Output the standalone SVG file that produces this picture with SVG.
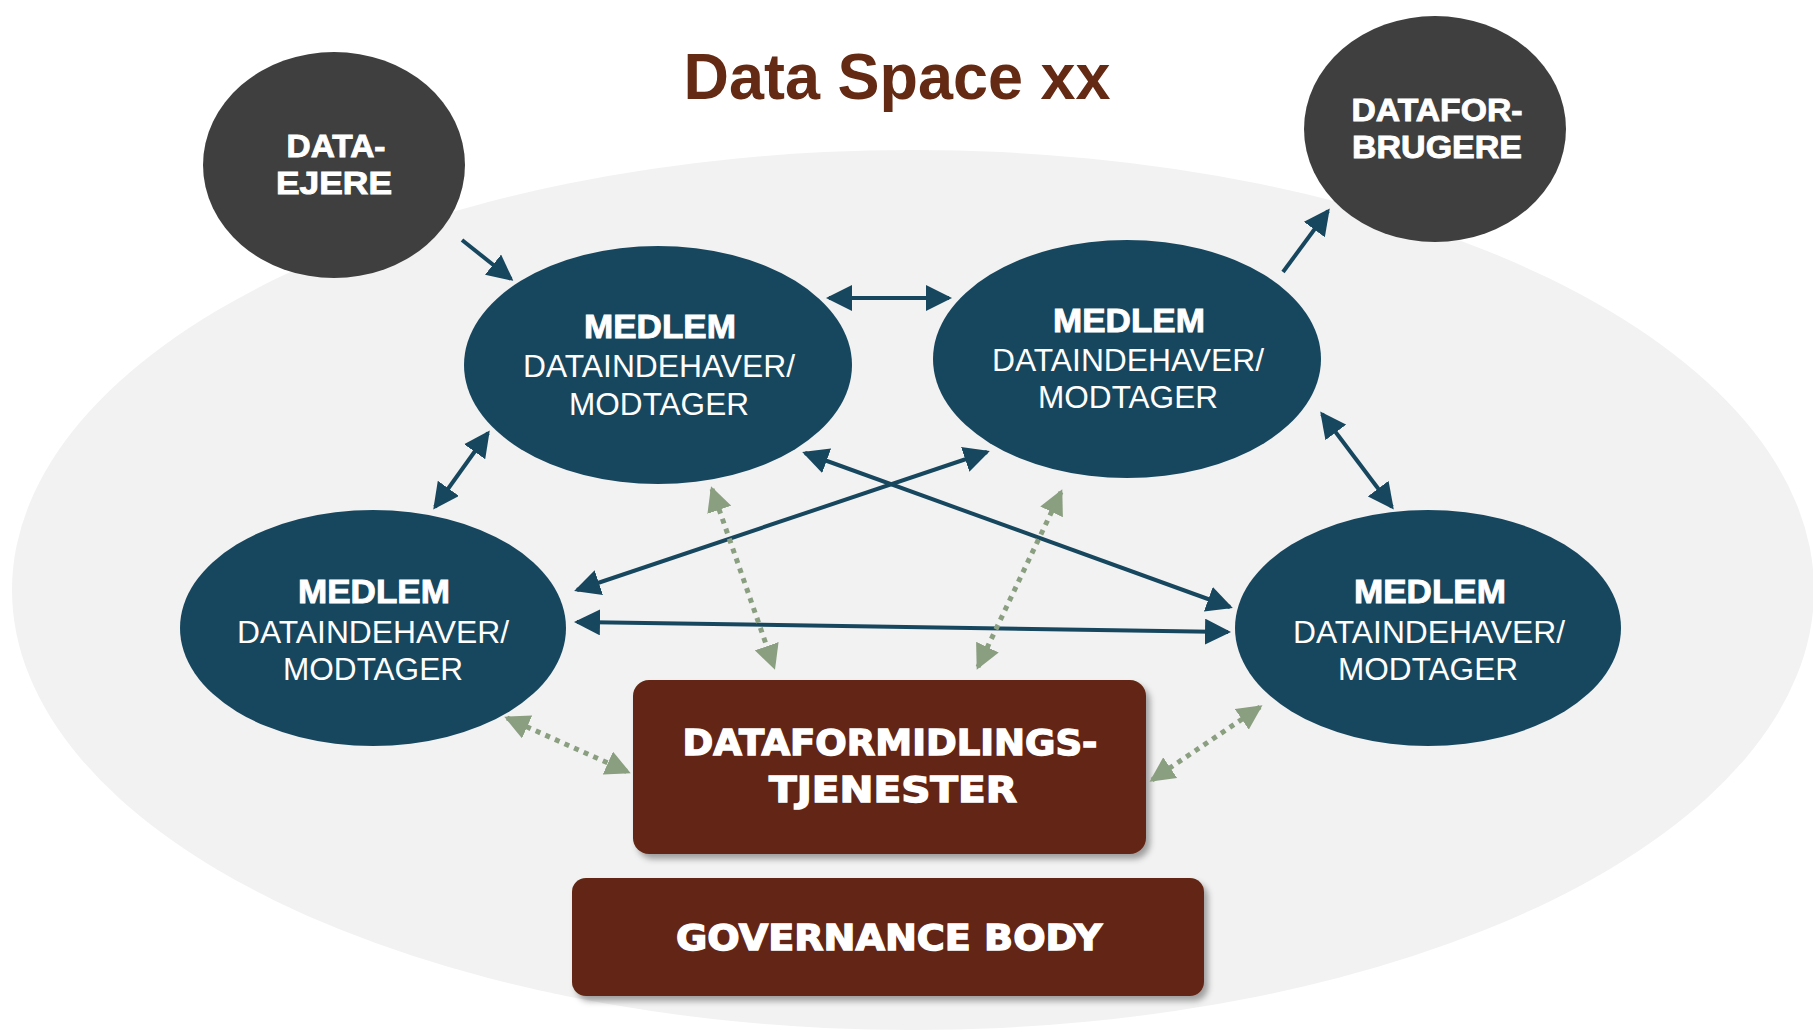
<svg xmlns="http://www.w3.org/2000/svg" width="1813" height="1034" viewBox="0 0 1813 1034">
  <style>
    .bg { fill: #f2f2f2; }
    .dark { fill: #3f3f3f; }
    .member { fill: #17475e; }
    .box { fill: #632813; }
    .title { font-family: "Liberation Sans", Arial, sans-serif; font-weight: bold; font-size: 64px; fill: #642a14; text-anchor: middle; }
    .lbl { font-family: "Liberation Sans", Arial, sans-serif; font-weight: bold; font-size: 32px; fill: #ffffff; text-anchor: middle; stroke: #ffffff; stroke-width: 0.9; }
    .mb { font-family: "Liberation Sans", Arial, sans-serif; font-weight: bold; font-size: 33px; fill: #ffffff; text-anchor: middle; stroke: #ffffff; stroke-width: 0.9; }
    .mr { font-family: "Liberation Sans", Arial, sans-serif; font-size: 31px; fill: #ffffff; text-anchor: middle; }
    .bx { font-family: "DejaVu Sans", "Liberation Sans", sans-serif; font-weight: bold; font-size: 36px; fill: #ffffff; text-anchor: middle; stroke: #ffffff; stroke-width: 1.4; }
    .cd { fill: none; stroke: #17475e; stroke-width: 4; marker-end: url(#hd); }
    .cd2 { marker-start: url(#hd); }
    .cg { fill: none; stroke: #8a9e80; stroke-width: 5; stroke-dasharray: 5 5.5; marker-start: url(#hg); marker-end: url(#hg); }
  </style>
  <defs>
    <marker id="hd" markerUnits="userSpaceOnUse" viewBox="0 0 26 26" markerWidth="26" markerHeight="26" refX="23" refY="13" orient="auto-start-reverse">
      <path d="M0,0 L26,13 L0,26 Z" fill="#17475e"/>
    </marker>
    <marker id="hg" markerUnits="userSpaceOnUse" viewBox="0 0 25 25" markerWidth="25" markerHeight="25" refX="22" refY="12.5" orient="auto-start-reverse">
      <path d="M0,0 L25,12.5 L0,25 Z" fill="#8a9e80"/>
    </marker>
    <filter id="sh" x="-10%" y="-10%" width="125%" height="130%">
      <feDropShadow dx="4" dy="5" stdDeviation="3" flood-color="#000000" flood-opacity="0.35"/>
    </filter>
  </defs>

  <g id="background">
    <ellipse class="bg" cx="913" cy="590" rx="901" ry="440"/>
  </g>

  <g id="title">
    <text class="title" x="897" y="99" textLength="427" lengthAdjust="spacingAndGlyphs">Data Space xx</text>
  </g>

  <g id="dataejere">
    <ellipse class="dark" cx="334" cy="165" rx="131" ry="113"/>
    <text class="lbl" x="336" y="157" textLength="99" lengthAdjust="spacingAndGlyphs">DATA-</text>
    <text class="lbl" x="334" y="194" textLength="116" lengthAdjust="spacingAndGlyphs">EJERE</text>
  </g>

  <g id="dataforbrugere">
    <ellipse class="dark" cx="1435" cy="129" rx="131" ry="113"/>
    <text class="lbl" x="1437" y="121" textLength="171" lengthAdjust="spacingAndGlyphs">DATAFOR-</text>
    <text class="lbl" x="1437" y="158" textLength="170" lengthAdjust="spacingAndGlyphs">BRUGERE</text>
  </g>

  <g id="medlem-top-left">
    <ellipse class="member" cx="658" cy="365" rx="194" ry="119"/>
    <text class="mb" x="660" y="338" textLength="152" lengthAdjust="spacingAndGlyphs">MEDLEM</text>
    <text class="mr" x="659" y="377" textLength="272" lengthAdjust="spacingAndGlyphs">DATAINDEHAVER/</text>
    <text class="mr" x="659" y="415" textLength="180" lengthAdjust="spacingAndGlyphs">MODTAGER</text>
  </g>

  <g id="medlem-top-right">
    <ellipse class="member" cx="1127" cy="359" rx="194" ry="119"/>
    <text class="mb" x="1129" y="332" textLength="152" lengthAdjust="spacingAndGlyphs">MEDLEM</text>
    <text class="mr" x="1128" y="371" textLength="272" lengthAdjust="spacingAndGlyphs">DATAINDEHAVER/</text>
    <text class="mr" x="1128" y="408" textLength="180" lengthAdjust="spacingAndGlyphs">MODTAGER</text>
  </g>

  <g id="medlem-left">
    <ellipse class="member" cx="373" cy="628" rx="193" ry="118"/>
    <text class="mb" x="374" y="603" textLength="152" lengthAdjust="spacingAndGlyphs">MEDLEM</text>
    <text class="mr" x="373" y="643" textLength="272" lengthAdjust="spacingAndGlyphs">DATAINDEHAVER/</text>
    <text class="mr" x="373" y="680" textLength="180" lengthAdjust="spacingAndGlyphs">MODTAGER</text>
  </g>

  <g id="medlem-right">
    <ellipse class="member" cx="1428" cy="628" rx="193" ry="118"/>
    <text class="mb" x="1430" y="603" textLength="152" lengthAdjust="spacingAndGlyphs">MEDLEM</text>
    <text class="mr" x="1429" y="643" textLength="272" lengthAdjust="spacingAndGlyphs">DATAINDEHAVER/</text>
    <text class="mr" x="1428" y="680" textLength="180" lengthAdjust="spacingAndGlyphs">MODTAGER</text>
  </g>

  <g id="dataformidlingstjenester">
    <rect class="box" x="633" y="680" width="513" height="174" rx="16" filter="url(#sh)"/>
    <text class="bx" x="890" y="755" textLength="415" lengthAdjust="spacingAndGlyphs">DATAFORMIDLINGS-</text>
    <text class="bx" x="893" y="802" textLength="248" lengthAdjust="spacingAndGlyphs">TJENESTER</text>
  </g>

  <g id="governance-body">
    <rect class="box" x="572" y="878" width="632" height="118" rx="14" filter="url(#sh)"/>
    <text class="bx" x="889" y="950" textLength="426" lengthAdjust="spacingAndGlyphs">GOVERNANCE BODY</text>
  </g>

  <g id="connectors">
    <line class="cd" x1="462" y1="240" x2="511" y2="279"/>
    <line class="cd cd2" x1="829" y1="298" x2="949" y2="298"/>
    <line class="cd" x1="1283" y1="272" x2="1328" y2="211"/>
    <line class="cd cd2" x1="488" y1="433" x2="435" y2="507"/>
    <line class="cd cd2" x1="1322" y1="414" x2="1392" y2="507"/>
    <line class="cd cd2" x1="805" y1="453" x2="1230" y2="607"/>
    <line class="cd cd2" x1="987" y1="452" x2="577" y2="590"/>
    <line class="cd cd2" x1="577" y1="622" x2="1228" y2="632"/>
    <line class="cg" x1="712" y1="489" x2="774" y2="667"/>
    <line class="cg" x1="1061" y1="492" x2="978" y2="667"/>
    <line class="cg" x1="507" y1="718" x2="628" y2="772"/>
    <line class="cg" x1="1260" y1="707" x2="1152" y2="780"/>
  </g>
</svg>
